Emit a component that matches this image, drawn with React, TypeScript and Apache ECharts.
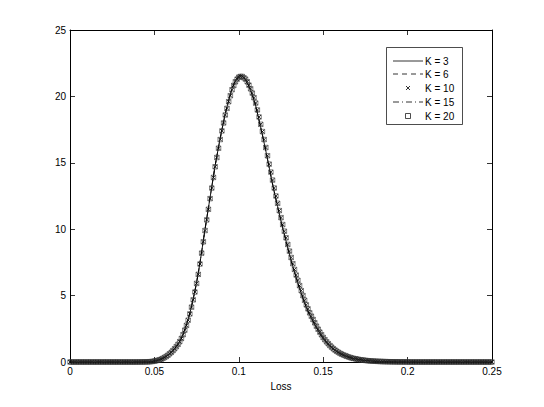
import React, { useEffect, useRef } from "react";
import * as echarts from "echarts";

// Loss grid (step 0.001 from 0 to 0.25)
const lossGrid: number[] = [];
for (let i = 0; i <= 250; i++) lossGrid.push(+(i * 0.001).toFixed(3));

const densityK3: number[] = [
  0, 0, 0, 0, 0, 0, 0, 0, 0, 0,
  0, 0, 0, 0, 0, 0, 0, 0, 0, 0,
  0, 0, 0, 0, 0, 0, 0, 0, 0, 0,
  0, 0, 0, 0, 0, 0, 0, 0, 0, 0,
  0.001, 0.002, 0.003, 0.005, 0.007, 0.01, 0.014, 0.021, 0.03, 0.047,
  0.07, 0.098, 0.13, 0.17, 0.22, 0.28, 0.35, 0.43, 0.52, 0.63,
  0.75, 0.88, 1.02, 1.18, 1.36, 1.56, 1.8, 2.1, 2.45, 2.8,
  3.2, 3.68, 4.2, 4.76, 5.35, 6.0, 6.7, 7.48, 8.3, 9.15,
  10.0, 10.8, 11.6, 12.4, 13.2, 14.0, 14.8, 15.5, 16.2, 16.85,
  17.5, 18.1, 18.7, 19.2, 19.7, 20.15, 20.6, 20.9, 21.2, 21.4,
  21.55, 21.6, 21.55, 21.42, 21.25, 21.0, 20.75, 20.45, 20.1, 19.72,
  19.3, 18.75, 18.2, 17.65, 17.1, 16.5, 15.9, 15.28, 14.65, 14.02,
  13.4, 12.82, 12.25, 11.7, 11.15, 10.62, 10.1, 9.6, 9.1, 8.6,
  8.1, 7.65, 7.2, 6.78, 6.35, 5.95, 5.55, 5.17, 4.8, 4.45,
  4.1, 3.82, 3.55, 3.3, 3.05, 2.81, 2.58, 2.36, 2.15, 1.95,
  1.75, 1.6, 1.45, 1.31, 1.18, 1.07, 0.96, 0.87, 0.78, 0.7,
  0.63, 0.57, 0.51, 0.46, 0.41, 0.37, 0.33, 0.29, 0.26, 0.235,
  0.21, 0.19, 0.17, 0.15, 0.13, 0.117, 0.105, 0.092, 0.08, 0.072,
  0.065, 0.057, 0.05, 0.045, 0.04, 0.035, 0.03, 0.026, 0.023, 0.02,
  0.018, 0.016, 0.014, 0.012, 0.011, 0.009, 0.008, 0.007, 0.006, 0.005,
  0.004,
  0, 0, 0, 0, 0, 0, 0, 0, 0, 0,
  0, 0, 0, 0, 0, 0, 0, 0, 0, 0,
  0, 0, 0, 0, 0, 0, 0, 0, 0, 0,
  0, 0, 0, 0, 0, 0, 0, 0, 0, 0,
  0, 0, 0, 0, 0, 0, 0, 0, 0, 0,
];

const densityK20: number[] = [
  0, 0, 0, 0, 0, 0, 0, 0, 0, 0,
  0, 0, 0, 0, 0, 0, 0, 0, 0, 0,
  0, 0, 0, 0, 0, 0, 0, 0, 0, 0,
  0, 0, 0, 0, 0, 0, 0, 0, 0, 0,
  0.001, 0.002, 0.003, 0.005, 0.007, 0.01, 0.014, 0.021, 0.03, 0.046,
  0.068, 0.095, 0.127, 0.166, 0.215, 0.274, 0.343, 0.42, 0.51, 0.62,
  0.73, 0.86, 1.0, 1.16, 1.33, 1.53, 1.77, 2.06, 2.4, 2.76,
  3.15, 3.62, 4.13, 4.68, 5.27, 5.92, 6.6, 7.38, 8.2, 9.05,
  9.9, 10.7, 11.5, 12.3, 13.1, 13.9, 14.7, 15.4, 16.1, 16.75,
  17.4, 18.0, 18.6, 19.1, 19.6, 20.05, 20.5, 20.82, 21.1, 21.3,
  21.45, 21.5, 21.5, 21.4, 21.3, 21.1, 20.85, 20.57, 20.25, 19.9,
  19.5, 18.98, 18.45, 17.9, 17.35, 16.75, 16.15, 15.53, 14.9, 14.3,
  13.7, 13.1, 12.5, 11.95, 11.4, 10.87, 10.35, 9.85, 9.35, 8.85,
  8.35, 7.87, 7.4, 6.97, 6.55, 6.15, 5.75, 5.37, 5.0, 4.65,
  4.3, 4.0, 3.7, 3.45, 3.2, 2.95, 2.7, 2.47, 2.25, 2.05,
  1.85, 1.68, 1.52, 1.38, 1.24, 1.12, 1.0, 0.9, 0.81, 0.73,
  0.65, 0.59, 0.53, 0.48, 0.43, 0.38, 0.34, 0.3, 0.27, 0.245,
  0.22, 0.195, 0.17, 0.152, 0.135, 0.12, 0.105, 0.093, 0.082, 0.073,
  0.065, 0.057, 0.05, 0.045, 0.04, 0.035, 0.03, 0.026, 0.023, 0.02,
  0.018, 0.016, 0.014, 0.012, 0.011, 0.009, 0.008, 0.007, 0.006, 0.005,
  0.004,
  0, 0, 0, 0, 0, 0, 0, 0, 0, 0,
  0, 0, 0, 0, 0, 0, 0, 0, 0, 0,
  0, 0, 0, 0, 0, 0, 0, 0, 0, 0,
  0, 0, 0, 0, 0, 0, 0, 0, 0, 0,
  0, 0, 0, 0, 0, 0, 0, 0, 0, 0,
];

const densityK6 = densityK3;
const densityK10 = densityK20;
const densityK15 = densityK3;

const legendLabels = ["K = 3", "K = 6", "K = 10", "K = 15", "K = 20"];
const xTicks = [0, 0.05, 0.1, 0.15, 0.2, 0.25];
const xAxisName = "Loss";

const FONT = "Liberation Sans, Arial, Helvetica, sans-serif";
const XMARK = "path://M0,0L10,10M10,0L0,10";

function pairs(vals: number[]) {
  return lossGrid.map((x, i) => [x, vals[i]]);
}

export default function App() {
  const ref = useRef<HTMLDivElement>(null);
  useEffect(() => {
    if (!ref.current) return;
    const chart = echarts.init(ref.current, undefined, { renderer: "svg" });
    const axisCommon = {
      axisLine: { show: true, onZero: false, lineStyle: { color: "#000", width: 1 } },
      axisTick: { show: true, inside: true, length: 5, lineStyle: { color: "#000", width: 0.8 } },
      splitLine: { show: false },
    };
    const rowY = [61, 74, 88, 102, 116];
    const lx1 = 393, lx2 = 423, tx = 425;
    const g: any[] = [
      {
        type: "rect",
        shape: { x: 386.5, y: 47.5, width: 76, height: 77 },
        style: { fill: "#fff", stroke: "#000", lineWidth: 0.7 },
        z: 100,
      },
      { type: "line", shape: { x1: lx1, y1: rowY[0], x2: lx2, y2: rowY[0] }, style: { stroke: "#000", lineWidth: 0.8 }, z: 101 },
      { type: "line", shape: { x1: lx1, y1: rowY[1], x2: lx2, y2: rowY[1] }, style: { stroke: "#000", lineWidth: 0.8, lineDash: [5, 4] }, z: 101 },
      { type: "line", shape: { x1: 406, y1: rowY[2] - 2, x2: 410, y2: rowY[2] + 2 }, style: { stroke: "#000", lineWidth: 0.8 }, z: 101 },
      { type: "line", shape: { x1: 410, y1: rowY[2] - 2, x2: 406, y2: rowY[2] + 2 }, style: { stroke: "#000", lineWidth: 0.8 }, z: 101 },
      { type: "line", shape: { x1: lx1, y1: rowY[3], x2: lx2, y2: rowY[3] }, style: { stroke: "#000", lineWidth: 0.8, lineDash: [6, 3, 1, 3] }, z: 101 },
      { type: "rect", shape: { x: 405.5, y: rowY[4] - 2.5, width: 5, height: 5 }, style: { fill: "none", stroke: "#000", lineWidth: 0.7 }, z: 101 },
    ];
    legendLabels.forEach((t, i) => {
      g.push({
        type: "text",
        x: tx,
        y: rowY[i],
        style: { text: t, font: `10px ${FONT}`, fill: "#000", textVerticalAlign: "middle", textAlign: "left" },
        z: 101,
      });
    });

    chart.setOption({
      animation: false,
      backgroundColor: "#fff",
      grid: { left: 70, right: 52, top: 30, bottom: 45, outerBoundsMode: "none", containLabel: false },
      xAxis: [
        {
          type: "value",
          min: 0,
          max: 0.25,
          interval: 0.05,
          name: xAxisName,
          nameLocation: "middle",
          nameGap: 19,
          nameTextStyle: { fontFamily: FONT, fontSize: 10, color: "#000" },
          axisLabel: {
            fontFamily: FONT,
            fontSize: 10,
            color: "#000",
            margin: 4,
            formatter: (v: number) => {
              const m = xTicks.find((t) => Math.abs(t - v) < 1e-9);
              return m === undefined ? "" : String(m);
            },
          },
          ...axisCommon,
        },
        {
          type: "value",
          position: "top",
          min: 0,
          max: 0.25,
          interval: 0.05,
          axisLabel: { show: false },
          ...axisCommon,
        },
      ],
      yAxis: [
        {
          type: "value",
          position: "left",
          min: 0,
          max: 25,
          interval: 5,
          axisLabel: { fontFamily: FONT, fontSize: 10, color: "#000", margin: 4 },
          ...axisCommon,
        },
        {
          type: "value",
          position: "right",
          min: 0,
          max: 25,
          interval: 5,
          axisLabel: { show: false },
          ...axisCommon,
        },
      ],
      series: [
        {
          name: legendLabels[0],
          type: "line",
          data: pairs(densityK3),
          showSymbol: false,
          symbol: "none",
          lineStyle: { color: "#000", width: 0.9 },
        },
        {
          name: legendLabels[1],
          type: "line",
          data: pairs(densityK6),
          showSymbol: false,
          symbol: "none",
          lineStyle: { color: "#000", width: 0.8, type: [5, 4] },
        },
        {
          name: legendLabels[2],
          type: "line",
          data: pairs(densityK10),
          symbol: XMARK,
          symbolSize: 4,
          showAllSymbol: true,
          lineStyle: { opacity: 0, width: 0 },
          itemStyle: { color: "transparent", borderColor: "#000", borderWidth: 0.8 },
        },
        {
          name: legendLabels[3],
          type: "line",
          data: pairs(densityK15),
          showSymbol: false,
          symbol: "none",
          lineStyle: { color: "#000", width: 0.8, type: [6, 3, 1, 3] },
        },
        {
          name: legendLabels[4],
          type: "line",
          data: pairs(densityK20),
          symbol: "rect",
          symbolSize: 4.5,
          showAllSymbol: true,
          lineStyle: { opacity: 0, width: 0 },
          itemStyle: { color: "transparent", borderColor: "#333", borderWidth: 0.6 },
        },
      ],
      graphic: g,
    });
    return () => chart.dispose();
  }, []);
  return <div ref={ref} style={{ width: 544, height: 407, position: "absolute", left: 0, top: 0 }} />;
}
